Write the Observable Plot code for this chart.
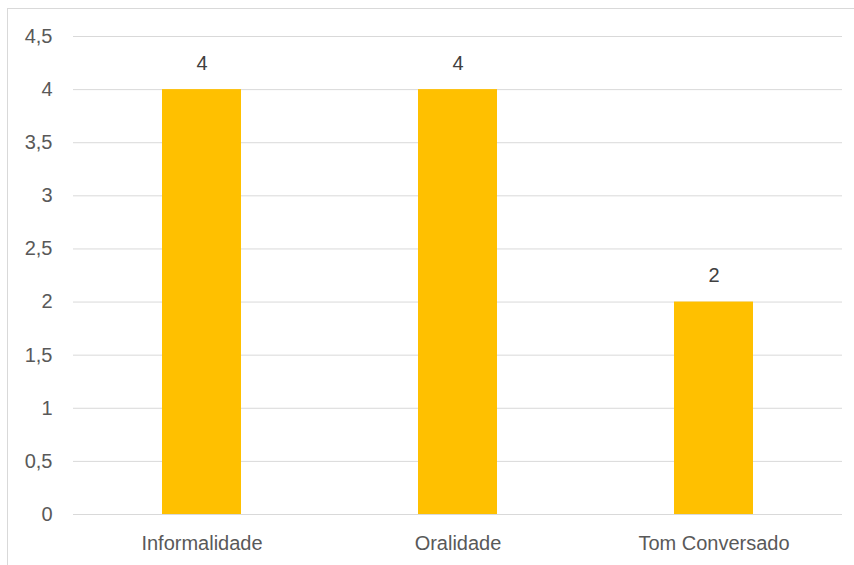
<!DOCTYPE html>
<html><head><meta charset="utf-8">
<script src="https://cdn.jsdelivr.net/npm/d3@7"></script>
<script src="https://cdn.jsdelivr.net/npm/@observablehq/plot@0.6"></script>
<style>
body{margin:0;background:#fff;overflow:hidden;}
#wrap{position:relative;width:854px;height:565px;}
#frame{position:absolute;left:7px;top:8px;width:900px;height:600px;border:1px solid #d9d9d9;pointer-events:none;}
</style></head>
<body><div id="wrap"><div id="frame"></div></div>
<script>
const categories = ["Informalidade", "Oralidade", "Tom Conversado"];
const values = [4, 4, 2];
const yTicks = [0, 0.5, 1, 1.5, 2, 2.5, 3, 3.5, 4, 4.5];
const data = categories.map((c, i) => ({cat: c, v: values[i]}));
const fmt = d => String(d).replace(".", ",");
const font = "'Liberation Sans', Arial, sans-serif";
const chart = Plot.plot({
  width: 854, height: 565,
  marginLeft: 73, marginRight: 12, marginTop: 36, marginBottom: 51,
  style: {fontFamily: font, fontSize: "20px", color: "#595959", background: "transparent"},
  x: {domain: categories, paddingInner: 0.69, paddingOuter: 0.345, label: null, tickSize: 0, tickPadding: 21},
  y: {domain: [0, 4.5], ticks: yTicks, tickFormat: fmt, label: null, tickSize: 0, tickPadding: 21},
  marks: [
    Plot.gridY(yTicks, {stroke: "#d9d9d9", strokeOpacity: 1, strokeWidth: 1}),
    Plot.barY(data, {x: "cat", y: "v", fill: "#FFC000"}),
    Plot.text(data, {x: "cat", y: "v", text: d => fmt(d.v), dy: -26, fill: "#404040", fontSize: 20})
  ]
});
document.getElementById("wrap").prepend(chart);
chart.style.position = "absolute"; chart.style.left = "0"; chart.style.top = "0";
</script></body></html>
